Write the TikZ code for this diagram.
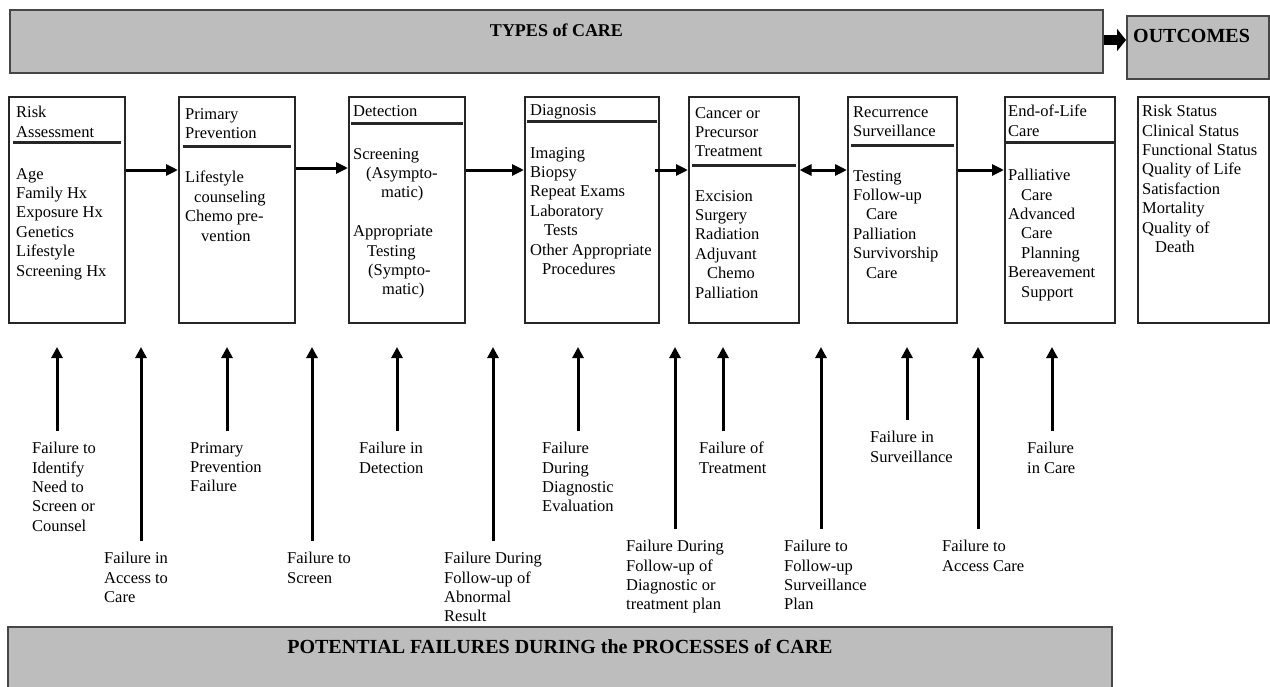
\documentclass[tikz,border=0pt]{standalone}
\usepackage{fontspec}
\setmainfont{Liberation Serif}
\usetikzlibrary{arrows.meta,calc}
\definecolor{bannergray}{RGB}{189,189,189}
\definecolor{edgegray}{RGB}{70,70,70}
\begin{document}
\begin{tikzpicture}[x=1pt,y=-1pt,
  txt/.style={anchor=north west, inner sep=0pt, align=left, font=\fontsize{16.5}{19.4}\selectfont},
  stagebox/.style={draw=black!85, line width=1.5pt, anchor=north west, inner sep=0pt, minimum height=226pt, minimum width=#1},
  banner/.style={draw=edgegray, fill=bannergray, line width=2pt, anchor=north west, inner sep=0pt},
  titletxt/.style={anchor=base, inner sep=0pt, font=\bfseries\fontsize{#1}{#1}\selectfont},
  hdr/.style={line width=3pt, black!85},
  harrow/.style={line width=3pt, -{Triangle[length=12pt,width=11pt]}},
  dharrow/.style={line width=3pt, {Triangle[length=12pt,width=11pt]}-{Triangle[length=12pt,width=11pt]}},
  varrow/.style={line width=3pt, -{Triangle[length=11pt,width=11pt]}},
  bigarrow/.style={line width=10pt, -{Triangle[length=9pt,width=22pt]}}
]
\useasboundingbox (0,0) rectangle (1270,686);
\clip (0,0) rectangle (1270,686);

% banners
\node[banner, minimum width=1093pt, minimum height=63pt] (types) at (9,9) {};
\node[titletxt=18] (typesT) at (types.north |- 0,36) {TYPES of CARE};
\node[banner, minimum width=142pt, minimum height=63pt] (outc) at (1126,15) {};
\node[titletxt=20, anchor=base west] (outcT) at (1133,42) {OUTCOMES};
\draw[bigarrow] (types.east |- 0,40) -- (outc.west |- 0,40);

\node[banner, minimum width=1104pt, minimum height=90pt] (pot) at (7,626) {};
\node[titletxt=20] (potT) at (pot.north |- 0,653) {POTENTIAL FAILURES DURING the PROCESSES of CARE};

% stage boxes
\node[stagebox=116pt] (risk) at (8,96) {};
\node[stagebox=116pt] (prim) at (178,96) {};
\node[stagebox=116pt] (det) at (348,96) {};
\node[stagebox=134pt] (diag) at (524,96) {};
\node[stagebox=110pt] (treat) at (688,96) {};
\node[stagebox=109pt] (rec) at (847,96) {};
\node[stagebox=110pt] (eol) at (1004,96) {};
\node[stagebox=131pt] (res) at (1137,96) {};

% header rules
\draw[hdr] ($(risk.north west)+(5,46)$) -- ($(risk.north east)+(-5,46)$);
\draw[hdr] ($(prim.north west)+(5,50)$) -- ($(prim.north east)+(-5,50)$);
\draw[hdr] ($(det.north west)+(3,27)$) -- ($(det.north east)+(-3,27)$);
\draw[hdr] ($(diag.north west)+(3,25)$) -- ($(diag.north east)+(-3,25)$);
\draw[hdr] ($(treat.north west)+(4,69)$) -- ($(treat.north east)+(-4,69)$);
\draw[hdr] ($(rec.north west)+(4,49)$) -- ($(rec.north east)+(-4,49)$);
\draw[hdr] ($(eol.north west)+(2,46)$) -- ($(eol.north east)+(-2,46)$);

% box texts
\node[txt] (riskH) at (16,106) {Risk\\Assessment};
\node[txt] (riskB) at (16,168) {Age\\Family Hx\\Exposure Hx\\Genetics\\Lifestyle\\Screening Hx};
\node[txt] (primH) at (185,108) {Primary\\Prevention};
\node[txt] (primB) at (185,171) {Lifestyle\\\hspace*{9pt}counseling\\Chemo pre-\\\hspace*{16pt}vention};
\node[txt] (detH) at (353,105) {Detection};
\node[txt] (detB) at (353,148) {Screening\\\hspace*{13pt}(Asympto-\\\hspace*{28pt}matic)\\[19.4pt]Appropriate\\\hspace*{14pt}Testing\\\hspace*{15pt}(Sympto-\\\hspace*{29pt}matic)};
\node[txt] (diagH) at (530,104) {Diagnosis};
\node[txt] (diagB) at (530,147) {Imaging\\Biopsy\\Repeat Exams\\Laboratory\\\hspace*{14pt}Tests\\Other Appropriate\\\hspace*{12pt}Procedures};
\node[txt] (treatH) at (695,107) {Cancer or\\Precursor\\Treatment};
\node[txt] (treatB) at (695,190) {Excision\\Surgery\\Radiation\\Adjuvant\\\hspace*{12pt}Chemo\\Palliation};
\node[txt] (recH) at (853,106) {Recurrence\\Surveillance};
\node[txt] (recB) at (853,170) {Testing\\Follow-up\\\hspace*{13pt}Care\\Palliation\\Survivorship\\\hspace*{13pt}Care};
\node[txt] (eolH) at (1008,105) {End-of-Life\\Care};
\node[txt] (eolB) at (1008,169) {Palliative\\\hspace*{13pt}Care\\Advanced\\\hspace*{13pt}Care\\\hspace*{13pt}Planning\\Bereavement\\\hspace*{13pt}Support};
\node[txt] (resB) at (1142,105) {Risk Status\\Clinical Status\\Functional Status\\Quality of Life\\Satisfaction\\Mortality\\Quality of\\\hspace*{13pt}Death};

% flow arrows
\draw[harrow] (risk.east |- 0,170) -- (prim.west |- 0,170);
\draw[harrow] (prim.east |- 0,168) -- (det.west |- 0,168);
\draw[harrow] (det.east |- 0,170) -- (diag.west |- 0,170);
\draw[harrow] ($(diag.east |- 0,170)+(-5,0)$) -- (treat.west |- 0,170);
\draw[dharrow] (treat.east |- 0,170) -- (rec.west |- 0,170);
\draw[harrow] (rec.east |- 0,170) -- (eol.west |- 0,170);

% failure labels
\node[txt] (f1) at (32,442) {Failure to\\Identify\\Need to\\Screen or\\Counsel};
\node[txt] (f2) at (104,552) {Failure in\\Access to\\Care};
\node[txt] (f3) at (190,442) {Primary\\Prevention\\Failure};
\node[txt] (f4) at (287,552) {Failure to\\Screen};
\node[txt] (f5) at (359,442) {Failure in\\Detection};
\node[txt] (f6) at (444,552) {Failure During\\Follow-up of\\Abnormal\\Result};
\node[txt] (f7) at (542,442) {Failure\\During\\Diagnostic\\Evaluation};
\node[txt] (f8) at (626,540) {Failure During\\Follow-up of\\Diagnostic or\\treatment plan};
\node[txt] (f9) at (699,442) {Failure of\\Treatment};
\node[txt] (f10) at (784,540) {Failure to\\Follow-up\\Surveillance\\Plan};
\node[txt] (f11) at (870,431) {Failure in\\Surveillance};
\node[txt] (f12) at (942,540) {Failure to\\Access Care};
\node[txt] (f13) at (1027,442) {Failure\\in Care};

% arrow tips
\coordinate (t1) at (57,347);
\coordinate (t2) at (141,347);
\coordinate (t3) at (227,347);
\coordinate (t4) at (312,347);
\coordinate (t5) at (397,347);
\coordinate (t6) at (493,347);
\coordinate (t7) at (578,347);
\coordinate (t8) at (675,347);
\coordinate (t9) at (723,347);
\coordinate (t10) at (821,347);
\coordinate (t11) at (907,347);
\coordinate (t12) at (978,347);
\coordinate (t13) at (1052,347);

\foreach \i in {1,...,13} {
  \draw[varrow] ($(f\i.north -| t\i)+(0,-11)$) -- (t\i);
}
\end{tikzpicture}
\end{document}
